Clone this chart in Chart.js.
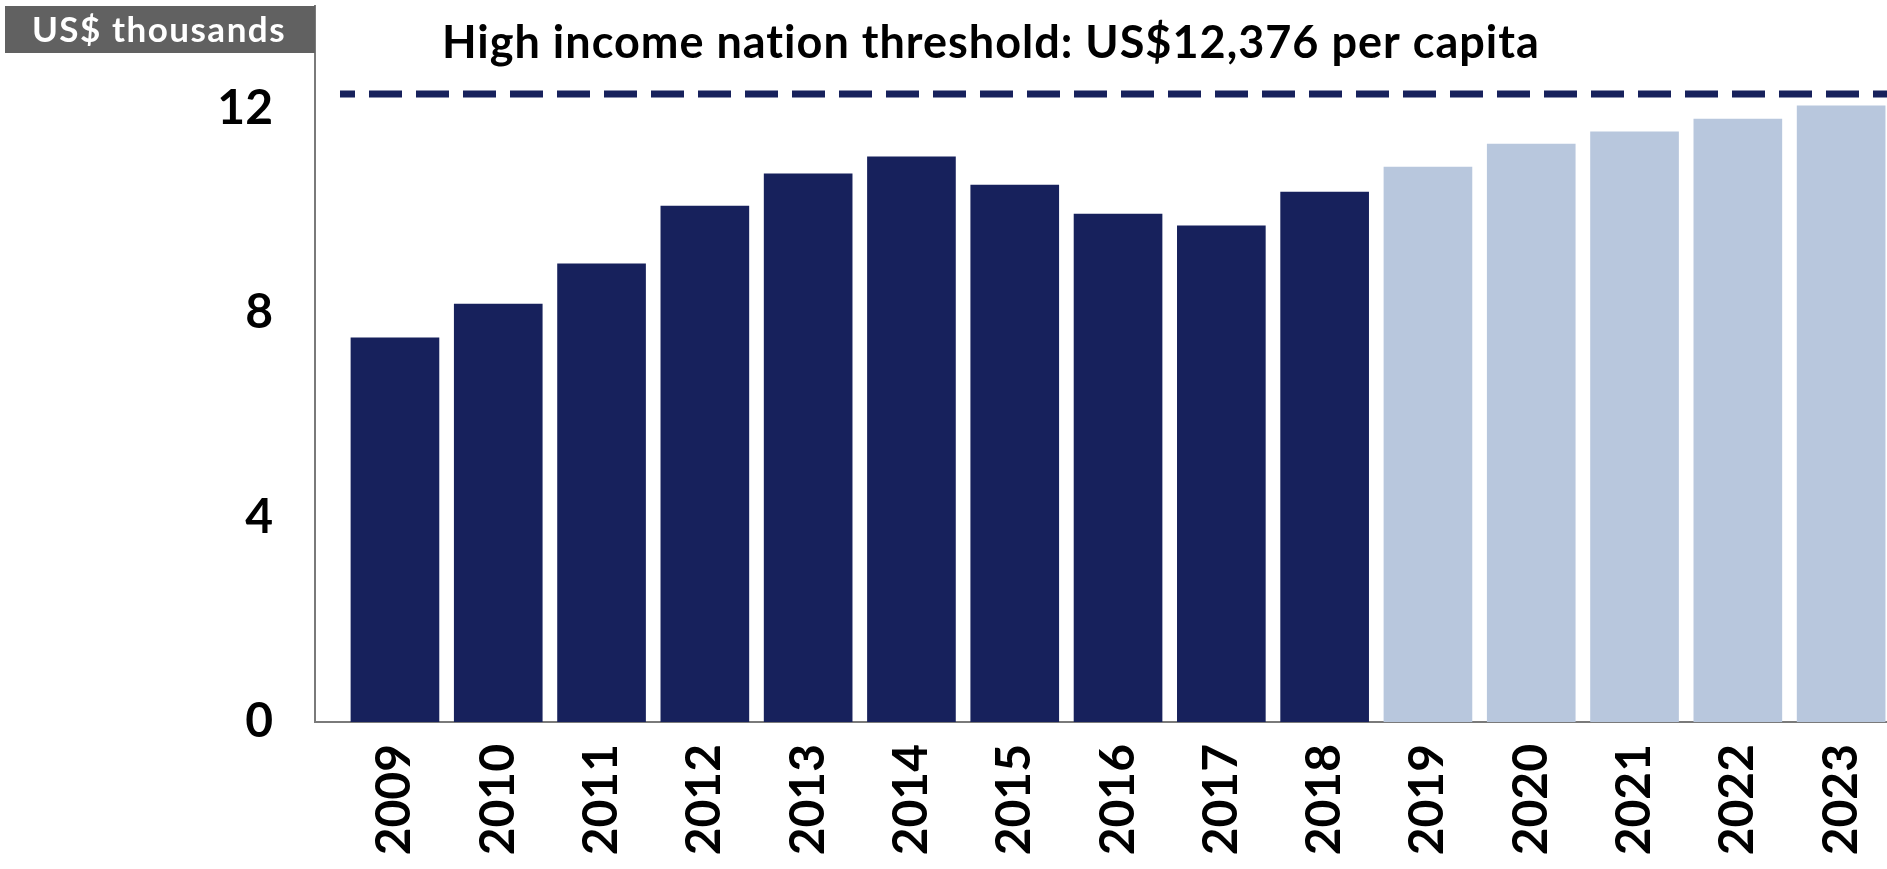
<!DOCTYPE html>
<html>
<head>
<meta charset="utf-8">
<script src="https://cdn.jsdelivr.net/npm/chart.js@4/dist/chart.umd.min.js"></script>
<style>
  html, body { margin: 0; padding: 0; background: #fff; overflow: hidden; }
  canvas { display: block; }
</style>
</head>
<body>
<canvas id="chart-area" width="1887" height="869"></canvas>
<script>
// GDP per capita, US$ thousands (2019 onwards are projections)
var years = [2009, 2010, 2011, 2012, 2013, 2014, 2015, 2016, 2017, 2018, 2019, 2020, 2021, 2022, 2023];
var values = [7.51, 8.17, 8.96, 10.09, 10.72, 11.05, 10.50, 9.93, 9.70, 10.36, 10.85, 11.30, 11.54, 11.79, 12.05];
var projected = [false, false, false, false, false, false, false, false, false, false, true, true, true, true, true];
var threshold = 12.28;
var yTicks = [0, 4, 8, 12];

var titleText = 'High income nation threshold: US$12,376 per capita';
var unitText = 'US$ thousands';

var navy = '#17215c';
var pale = '#b8c7dd';

var xMin = 2008.226, xMax = 2023.444, lineFrom = 2008.468;

var barData = years.map(function (y, i) { return { x: y, y: values[i] }; });
var barColors = projected.map(function (p) { return p ? pale : navy; });

function noPadding(s) {
    s.paddingLeft = 0; s.paddingRight = 0; s.paddingTop = 0; s.paddingBottom = 0;
}

var labelsPlugin = {
    id: 'labels',
    afterDraw: function (chart) {
        var ctx = chart.ctx;
        ctx.save();
        // unit box
        ctx.fillStyle = '#616161';
        ctx.fillRect(5, 6, 310, 47);
        ctx.fillStyle = '#fff';
        ctx.font = 'bold 35px Lato';
        ctx.letterSpacing = '1.5px';
        ctx.textAlign = 'center';
        ctx.textBaseline = 'alphabetic';
        ctx.fillText(unitText, 159, 42);
        // title
        ctx.fillStyle = '#000';
        ctx.font = 'bold 45px Lato';
        ctx.letterSpacing = '1px';
        ctx.textAlign = 'left';
        ctx.fillText(titleText, 442, 58);
        ctx.restore();
    }
};

var config = {
    type: 'bar',
    data: {
        datasets: [{
            type: 'line',
            data: [{ x: lineFrom, y: threshold }, { x: xMax, y: threshold }],
            borderColor: navy,
            borderWidth: 7,
            borderDash: [33, 14],
            borderDashOffset: 18,
            pointRadius: 0,
            order: 0
        }, {
            data: barData,
            backgroundColor: barColors,
            borderWidth: 0,
            barThickness: 88,
            order: 1
        }]
    },
    options: {
        responsive: false,
        animation: false,
        layout: { padding: { top: 6, left: 0, right: 0, bottom: 0 } },
        plugins: {
            legend: { display: false },
            tooltip: { enabled: false }
        },
        scales: {
            x: {
                type: 'linear',
                offset: false,
                min: xMin,
                max: xMax,
                grid: { display: false, drawTicks: false, offset: false },
                border: { display: true, color: '#7a7a7a', width: 2 },
                ticks: {
                    stepSize: 1,
                    includeBounds: false,
                    autoSkip: false,
                    minRotation: 90,
                    maxRotation: 90,
                    padding: 22,
                    color: '#000',
                    font: { family: 'Lato', weight: 'bold', size: 48 },
                    callback: function (v) { return years.indexOf(v) >= 0 ? String(v) : ''; }
                },
                afterFit: function (s) { s.height = 147; noPadding(s); }
            },
            y: {
                min: 0,
                max: 14,
                grid: { display: false, drawTicks: false },
                border: { display: true, color: '#7a7a7a', width: 2 },
                afterBuildTicks: function (s) { s.ticks = yTicks.map(function (v) { return { value: v }; }); },
                ticks: {
                    padding: 42,
                    color: '#000',
                    font: { family: 'Lato', weight: 'bold', size: 48 }
                },
                afterFit: function (s) { s.width = 315; noPadding(s); }
            }
        }
    },
    plugins: [labelsPlugin]
};

window.onload = function () {
    var ctx = document.getElementById('chart-area').getContext('2d');
    window.myBar = new Chart(ctx, config);
};
</script>
</body>
</html>
